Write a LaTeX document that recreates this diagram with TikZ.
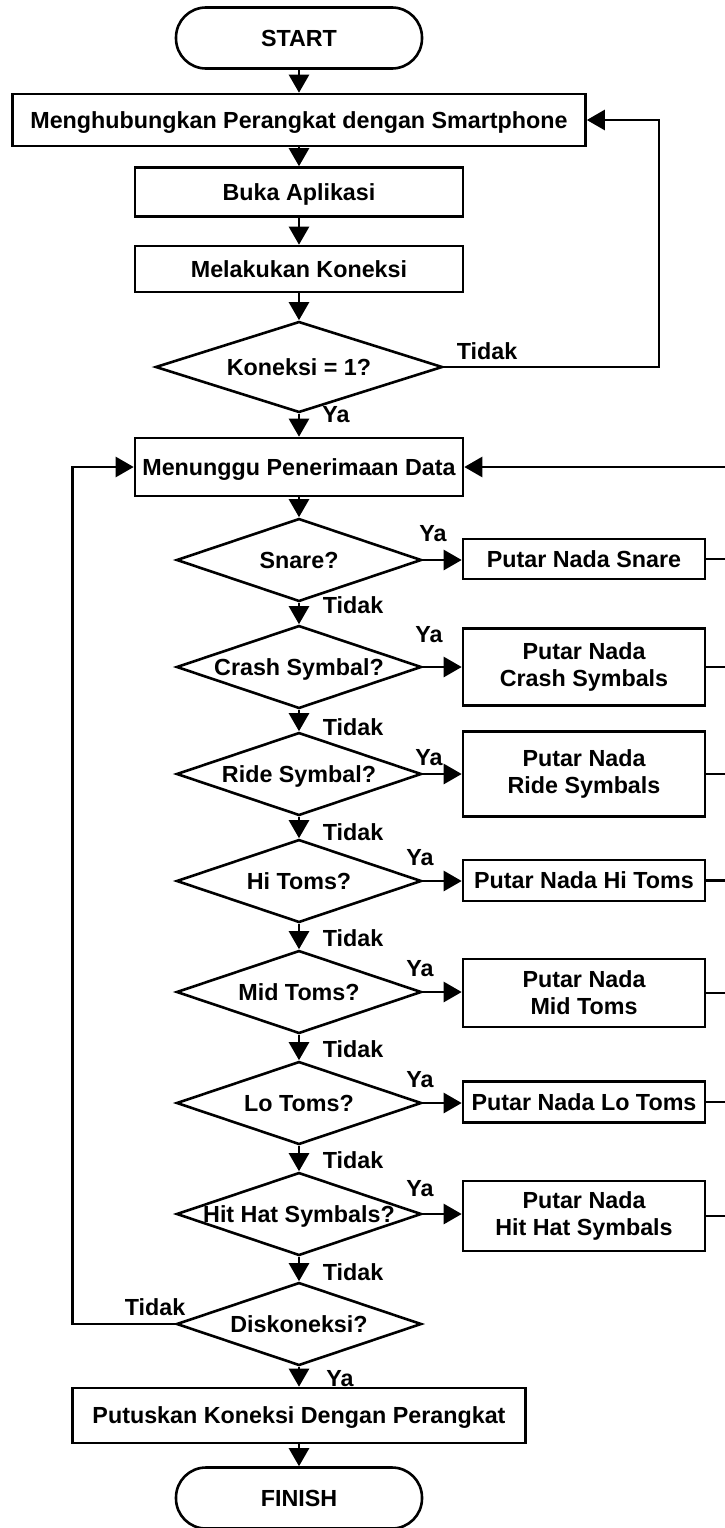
\documentclass[tikz,border=0pt]{standalone}
\usepackage{fontspec}
\setmainfont{Liberation Sans}
\usetikzlibrary{shapes.geometric,arrows.meta,positioning}
\newcommand{\flowfont}{\fontsize{23.3pt}{26.7pt}\selectfont\bfseries}
\newcommand{\dtext}[1]{\makebox[0pt]{#1}}

\begin{document}
\begin{tikzpicture}[x=1pt, y=-1pt,
  flow/.style={draw, line width=2.6pt, font=\flowfont, align=center,
               inner sep=0pt},
  capline/.style={text height=16.7pt, text depth=0pt},
  terminal/.style={flow, capline, rectangle, rounded corners=30pt,
                   minimum width=246pt, minimum height=61pt},
  proc/.style={flow, capline, rectangle},
  decision/.style={flow, capline, diamond, minimum width=245pt,
                   minimum height=83pt},
  act/.style={flow, rectangle, minimum width=242pt},
  lbl/.style={font=\flowfont, capline, inner sep=0pt},
  wire/.style={line width=2.6pt},
  arr/.style={wire, -{Triangle[length=18pt, width=20pt]}}]
  \useasboundingbox (0,0) rectangle (725,1528);
  % Connection part
  \node[terminal] (start) at (299,38) {START};
  \node[proc, minimum width=573pt, minimum height=52pt] (hubung)
    at (299,120) {Menghubungkan Perangkat dengan Smartphone};
  \node[proc, minimum width=328pt, minimum height=49pt] (buka)
    at (299,192) {Buka Aplikasi};
  \node[proc, minimum width=328pt, minimum height=46pt] (lakukan)
    at (299,269) {Melakukan Koneksi};
  \node[decision, minimum width=287pt, minimum height=91pt] (cek)
    at (299,367) {\dtext{Koneksi = 1?}};
  \node[proc, minimum width=328pt, minimum height=58pt] (tunggu)
    at (299,467) {Menunggu Penerimaan Data};
  % Drum checks
  \node[decision] (snare) at (299,560) {\dtext{Snare?}};
  \node[decision] (crash) at (299,667) {\dtext{Crash Symbal?}};
  \node[decision] (ride)  at (299,774) {\dtext{Ride Symbal?}};
  \node[decision] (hi)    at (299,881) {\dtext{Hi Toms?}};
  \node[decision] (mid)   at (299,992) {\dtext{Mid Toms?}};
  \node[decision] (lo)    at (299,1103) {\dtext{Lo Toms?}};
  \node[decision] (hit)   at (299,1214) {\dtext{Hit Hat Symbals?}};
  \node[decision] (disk)  at (299,1324) {\dtext{Diskoneksi?}};
  % Play actions
  \node[act, capline, minimum height=40pt] (aSnare) at (584,559)
    {Putar Nada Snare};
  \node[act, minimum height=77pt] (aCrash) at (584,667)
    {Putar Nada\\Crash Symbals};
  \node[act, minimum height=85pt] (aRide) at (584,774)
    {Putar Nada\\Ride Symbals};
  \node[act, capline, minimum height=41pt] (aHi) at (584,880.5)
    {Putar Nada Hi Toms};
  \node[act, minimum height=68pt] (aMid) at (584,993)
    {Putar Nada\\Mid Toms};
  \node[act, capline, minimum height=41pt] (aLo) at (584,1102)
    {Putar Nada Lo Toms};
  \node[act, minimum height=70pt] (aHit) at (584,1216)
    {Putar Nada\\Hit Hat Symbals};
  % End part
  \node[proc, minimum width=453pt, minimum height=55pt] (putus)
    at (299,1415.5) {Putuskan Koneksi Dengan Perangkat};
  \node[terminal] (finish) at (299,1498) {FINISH};
  % Main flow
  \foreach \a/\b in {start/hubung, hubung/buka, buka/lakukan, lakukan/cek,
      cek/tunggu, tunggu/snare, snare/crash, crash/ride, ride/hi, hi/mid,
      mid/lo, lo/hit, hit/disk, disk/putus, putus/finish}
    \draw[arr] (\a) -- (\b);
  % Ya branches
  \foreach \d/\p in {snare/aSnare, crash/aCrash, ride/aRide, hi/aHi,
      mid/aMid, lo/aLo, hit/aHit}
    \draw[arr] (\d.east) -- (\d.east -| \p.west);
  % Return lines
  \coordinate (kbalik) at (659,120);
  \draw[arr] (cek.east) -| (kbalik) -- (hubung.east);
  \coordinate (rtop) at (727,467);
  \foreach \p in {aSnare, aCrash, aRide, aHi, aMid, aLo, aHit}
    \draw[wire] (\p.east) -- (\p.east -| rtop);
  \draw[wire] (aHit.east -| rtop) -- (rtop);
  \draw[arr] (rtop) -- (tunggu.east);
  \coordinate (ltop) at (72.6,467);
  \draw[arr] (disk.west) -| (ltop) -- (tunggu.west);
  % Labels
  \node[lbl] (tidakK) at (487,351) {Tidak};
  \node[lbl] (yaK) at (336,414) {Ya};
  \node[lbl] (ya1) at (433,533) {Ya};
  \node[lbl] (ya2) at (429,634) {Ya};
  \node[lbl] (ya3) at (429,757) {Ya};
  \node[lbl] (ya4) at (420,857) {Ya};
  \node[lbl] (ya5) at (420,968) {Ya};
  \node[lbl] (ya6) at (420,1079) {Ya};
  \node[lbl] (ya7) at (420,1188) {Ya};
  \node[lbl] (tidak1) at (353,605) {Tidak};
  \node[lbl] (tidak2) at (353,727) {Tidak};
  \node[lbl] (tidak3) at (353,832) {Tidak};
  \node[lbl] (tidak4) at (353,938) {Tidak};
  \node[lbl] (tidak5) at (353,1049) {Tidak};
  \node[lbl] (tidak6) at (353,1160) {Tidak};
  \node[lbl] (tidak7) at (353,1272) {Tidak};
  \node[lbl] (tidakD) at (155,1307) {Tidak};
  \node[lbl] (yaD) at (340,1378) {Ya};
\end{tikzpicture}
\end{document}
